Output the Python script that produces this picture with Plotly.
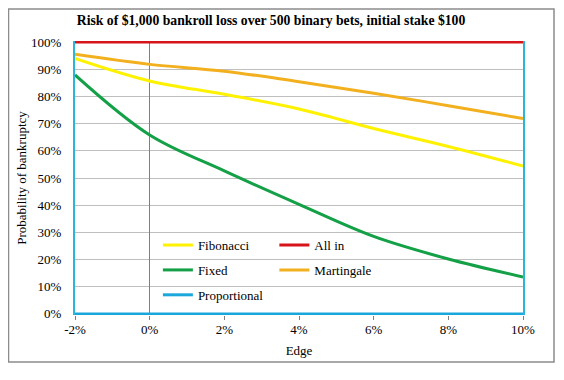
import plotly.graph_objects as go

edge = [-0.02, 0.0, 0.02, 0.04, 0.06, 0.08, 0.10]
fibonacci = [0.940, 0.857, 0.808, 0.754, 0.682, 0.616, 0.544]
all_in = [1.0, 1.0, 1.0, 1.0, 1.0, 1.0, 1.0]
fixed = [0.879, 0.658, 0.526, 0.403, 0.285, 0.202, 0.136]
martingale = [0.955, 0.918, 0.893, 0.854, 0.812, 0.766, 0.719]
proportional = [0.0, 0.0, 0.0, 0.0, 0.0, 0.0, 0.0]

x_ticks = [-0.02, 0.0, 0.02, 0.04, 0.06, 0.08, 0.10]
x_ticklabels = ["-2%", "0%", "2%", "4%", "6%", "8%", "10%"]
y_ticks = [0, 0.1, 0.2, 0.3, 0.4, 0.5, 0.6, 0.7, 0.8, 0.9, 1.0]
y_ticklabels = ["0%", "10%", "20%", "30%", "40%", "50%", "60%", "70%", "80%", "90%", "100%"]

FONT = "'Liberation Serif', 'Times New Roman', 'DejaVu Serif', serif"
fig = go.Figure()

def add(name, y, color, legend):
    fig.add_trace(go.Scatter(
        x=edge, y=y, name=name, mode="lines",
        line=dict(color=color, width=3, shape="spline", smoothing=1.0),
        legend=legend, legendgroup=name,
    ))

add("Fibonacci", fibonacci, "#FFF200", "legend")
add("Fixed", fixed, "#13A046", "legend")
add("Proportional", proportional, "#1CA7DB", "legend")
add("All in", all_in, "#D7141A", "legend2")
add("Martingale", martingale, "#F2B01E", "legend2")

legend_common = dict(
    font=dict(family=FONT, size=13, color="black"),
    bgcolor="rgba(0,0,0,0)", tracegroupgap=5, itemwidth=30,
    xanchor="left", yanchor="top",
)

fig.update_layout(
    width=548, height=364,
    margin=dict(l=67, r=33, t=33, b=57),
    paper_bgcolor="white", plot_bgcolor="white",
    font=dict(family=FONT, size=13, color="black"),
    title=dict(
        text="<b>Risk of $1,000 bankroll loss over 500 binary bets, initial stake $100</b>",
        font=dict(family=FONT, size=13.7, color="black"),
        xref="container", yref="container", x=0.48, y=0.967,
        xanchor="center", yanchor="middle",
    ),
    legend=dict(x=0.185, y=0.31, **legend_common),
    legend2=dict(x=0.445, y=0.31, **legend_common),
    xaxis=dict(
        range=[-0.02, 0.10], tickvals=x_ticks, ticktext=x_ticklabels,
        showgrid=False, zeroline=True, zerolinecolor="#808080", zerolinewidth=1,
        ticks="outside", ticklen=4, tickcolor="#808080",
        ticklabelstandoff=-2,
        title=dict(text="Edge", standoff=10, font=dict(family=FONT, size=13)),
        showline=False,
    ),
    yaxis=dict(
        range=[-0.004, 1.004], tickvals=y_ticks, ticktext=y_ticklabels,
        showgrid=True, gridcolor="#BFBFBF", gridwidth=1, zeroline=False,
        ticks="", ticklabelstandoff=9,
        showline=True, linecolor="#2BB5D8", linewidth=2, mirror=True,
        title=dict(text="Probability of bankruptcy", standoff=2,
                   font=dict(family=FONT, size=13)),
    ),
    shapes=[dict(
        type="rect", xref="paper", yref="paper",
        x0=-0.1484, x1=1.0692, y0=-0.1715, y1=1.1168,
        line=dict(color="#8C8C8C", width=1.5), fillcolor="rgba(0,0,0,0)",
        layer="below",
    )],
)

fig.write_html("out.html")
